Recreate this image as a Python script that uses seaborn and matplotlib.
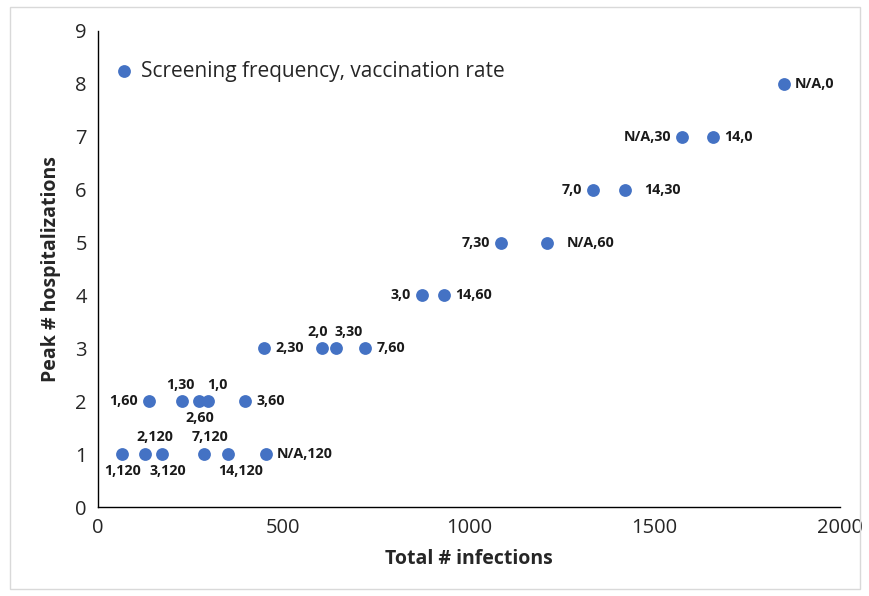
import matplotlib
matplotlib.use("Agg")
import matplotlib.pyplot as plt
import seaborn as sns
import pandas as pd
from matplotlib.patches import Rectangle

labels = ["1,120", "2,120", "3,120", "7,120", "14,120", "N/A,120",
          "1,60", "1,30", "2,60", "1,0", "3,60",
          "2,30", "2,0", "3,30", "7,60",
          "3,0", "14,60",
          "7,30", "N/A,60",
          "7,0", "14,30",
          "N/A,30", "14,0",
          "N/A,0"]
infections = [65, 127, 172, 286, 350, 453,
              137, 226, 272, 296, 396,
              447, 604, 641, 720,
              873, 933,
              1086, 1210,
              1334, 1420,
              1574, 1658,
              1849]
hospitalizations = [1, 1, 1, 1, 1, 1,
                    2, 2, 2, 2, 2,
                    3, 3, 3, 3,
                    4, 4,
                    5, 5,
                    6, 6,
                    7, 7,
                    8]
# label placement (style): side and extra horizontal shift in points
label_side = ["below", "above", "below", "above", "below", "right",
              "left", "above", "below", "above", "right",
              "right", "above", "above", "right",
              "left", "right",
              "left", "right",
              "left", "right",
              "left", "right",
              "right"]
label_shift = [0, 7, 4, 4, 9, 0,
               0, -1, 1, 7, 0,
               0, -3, 9, 0,
               0, 0,
               0, 6,
               0, 6,
               0, 0,
               0]

df = pd.DataFrame({"x": infections, "y": hospitalizations, "lab": labels})

sns.set_style("white")
plt.rcParams["font.family"] = ["Open Sans", "DejaVu Sans"]

fig = plt.figure(figsize=(8.7, 5.96), dpi=100)
ax = fig.add_axes([0.1126, 0.1493, 0.853, 0.7987])
color = "#4472C4"
sns.scatterplot(data=df, x="x", y="y", ax=ax, color=color, s=85, edgecolor=color,
                linewidth=0, label="Screening frequency, vaccination rate", zorder=3)

offsets = {"right": (8, 0, "left", "center"),
           "left": (-8, 0, "right", "center"),
           "above": (0, 7, "center", "bottom"),
           "below": (0, -7, "center", "top")}
for x, y, lab, side, sh in zip(infections, hospitalizations, labels, label_side, label_shift):
    dx, dy, ha, va = offsets[side]
    ax.annotate(lab, (x, y), xytext=(dx + sh, dy), textcoords="offset points",
                ha=ha, va=va, fontsize=10.3, fontweight="bold", color="#1a1a1a")

ax.set_xlim(0, 2000)
ax.set_ylim(0, 9)
ax.set_xticks([0, 500, 1000, 1500, 2000])
ax.set_yticks(range(0, 10))
ax.tick_params(axis="both", labelsize=14.5, length=0, colors="#262626", pad=8)
ax.set_xlabel("Total # infections", fontsize=14, fontweight="bold", labelpad=8)
ax.set_ylabel("Peak # hospitalizations", fontsize=14, fontweight="bold", labelpad=10)
for s in ["top", "right"]:
    ax.spines[s].set_visible(False)
for s in ["left", "bottom"]:
    ax.spines[s].set_color("black")
    ax.spines[s].set_linewidth(1.0)

leg = ax.legend(loc="upper left", bbox_to_anchor=(-0.018, 0.977), frameon=False,
                fontsize=15, handletextpad=-0.2, markerscale=1.0)

fig.patches.append(Rectangle((0.012, 0.012), 0.976, 0.976, transform=fig.transFigure,
                             fill=False, edgecolor="#d9d9d9", linewidth=1))

fig.savefig("out.png", dpi=100)
